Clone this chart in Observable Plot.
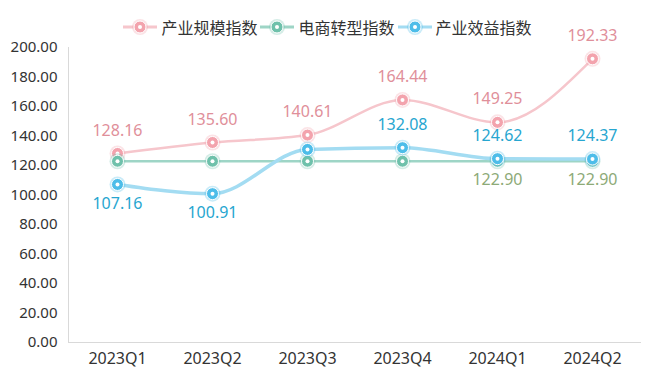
<!DOCTYPE html>
<html><head><meta charset="utf-8">
<script src="https://cdn.jsdelivr.net/npm/d3@7"></script>
<script src="https://cdn.jsdelivr.net/npm/@observablehq/plot@0.6"></script>
<style>
body{margin:0;background:#fff;font-family:"Noto Sans","Noto Sans CJK SC",sans-serif;}
#legend{height:40px;display:flex;justify-content:center;align-items:center;gap:0px;padding-top:14px;padding-left:8px;box-sizing:border-box;font-family:"Noto Sans CJK SC",sans-serif;font-size:16px;color:#333;}
.item{display:flex;align-items:center;gap:4px;margin-right:3px}
</style></head>
<body>
<div id="legend"></div>
<div id="chart"></div>
<script>
const quarters = ["2023Q1","2023Q2","2023Q3","2023Q4","2024Q1","2024Q2"];
const scaleIdx = [128.16,135.60,140.61,164.44,149.25,192.33];
const ecomIdx = [122.90,122.90,122.90,122.90,122.90,122.90];
const benefitIdx = [107.16,100.91,130.90,132.08,124.62,124.37];
const seriesNames = ["产业规模指数","电商转型指数","产业效益指数"];
const yTicks = [0,20,40,60,80,100,120,140,160,180,200];
// which labels are shown, and above (-1) / below (1)
const labelShow = [
  [1,1,1,1,1,1],
  [0,0,0,0,1,1],
  [1,1,0,1,1,1]
];
const labelSide = [
  [-1,-1,-1,-1,-1,-1],
  [1,1,1,1,1,1],
  [1,1,1,-1,-1,-1]
];

const lineCol = ["#f6c6cc","#9ed5c6","#a3dcf2"];
const dotCol = ["#f3a3ad","#6fc1ab","#4dbde9"];
const labCol = ["#df8f9a","#8daa77","#27a6d0"];
const lineW = [2.5,2.5,3.5];

const all = [scaleIdx, ecomIdx, benefitIdx];
const rows = [];
all.forEach((arr,s)=>arr.forEach((v,i)=>rows.push({s, name:seriesNames[s], q:quarters[i], v, show:labelShow[s][i], side:labelSide[s][i]})));

// legend
const leg = document.getElementById("legend");
seriesNames.forEach((n,s)=>{
  const it = document.createElement("div"); it.className="item";
  it.innerHTML = `<svg width="34" height="18"><line x1="0" x2="34" y1="9" y2="9" stroke="${lineCol[s]}" stroke-width="3"/>
  <circle cx="17" cy="9" r="8" fill="${dotCol[s]}" fill-opacity="0.3"/>
  <circle cx="17" cy="9" r="6" fill="${dotCol[s]}" stroke="#fff" stroke-width="1"/>
  <circle cx="17" cy="9" r="2" fill="#fff"/></svg><span>${n}</span>`;
  leg.appendChild(it);
});

const marks = [
  Plot.ruleY([0],{stroke:"#d9d9d9",strokeWidth:1}),
  Plot.axisY({ticks:yTicks, tickFormat:d=>d.toFixed(2), tickSize:0, tickPadding:11, fontSize:15, fill:"#333", label:null}),
  Plot.axisX({tickSize:0, tickPadding:10, fontSize:16, fill:"#333", label:null}),
];
for (let s=0;s<3;s++){
  const d = rows.filter(r=>r.s===s);
  marks.push(Plot.line(d,{x:"q",y:"v",stroke:lineCol[s],strokeWidth:lineW[s],curve:"monotone-x"}));
}
for (let s=0;s<3;s++){
  const d = rows.filter(r=>r.s===s);
  marks.push(Plot.dot(d,{x:"q",y:"v",r:8,fill:dotCol[s],fillOpacity:0.3}));
  marks.push(Plot.dot(d,{x:"q",y:"v",r:6,fill:dotCol[s],stroke:"#fff",strokeWidth:1}));
  marks.push(Plot.dot(d,{x:"q",y:"v",r:2,fill:"#fff"}));
}
for (let s=0;s<3;s++){
  const up = rows.filter(r=>r.s===s && r.show && r.side<0);
  const dn = rows.filter(r=>r.s===s && r.show && r.side>0);
  marks.push(Plot.text(up,{x:"q",y:"v",text:d=>d.v.toFixed(2),dy:-23,fill:labCol[s],fontSize:16}));
  marks.push(Plot.text(dn,{x:"q",y:"v",text:d=>d.v.toFixed(2),dy:19,fill:labCol[s],fontSize:16}));
}

const chart = Plot.plot({
  width:650, height:341,
  marginLeft:68, marginRight:9, marginTop:7, marginBottom:39,
  style:{fontFamily:"'Noto Sans','Open Sans',sans-serif", fontSize:"15px", overflow:"visible"},
  x:{type:"point", domain:quarters, padding:0.5},
  y:{domain:[0,200]},
  marks:[
    Plot.frame({anchor:"left", stroke:"#d9d9d9"}),
    ...marks
  ]
});
document.getElementById("chart").appendChild(chart);
</script>
</body></html>
